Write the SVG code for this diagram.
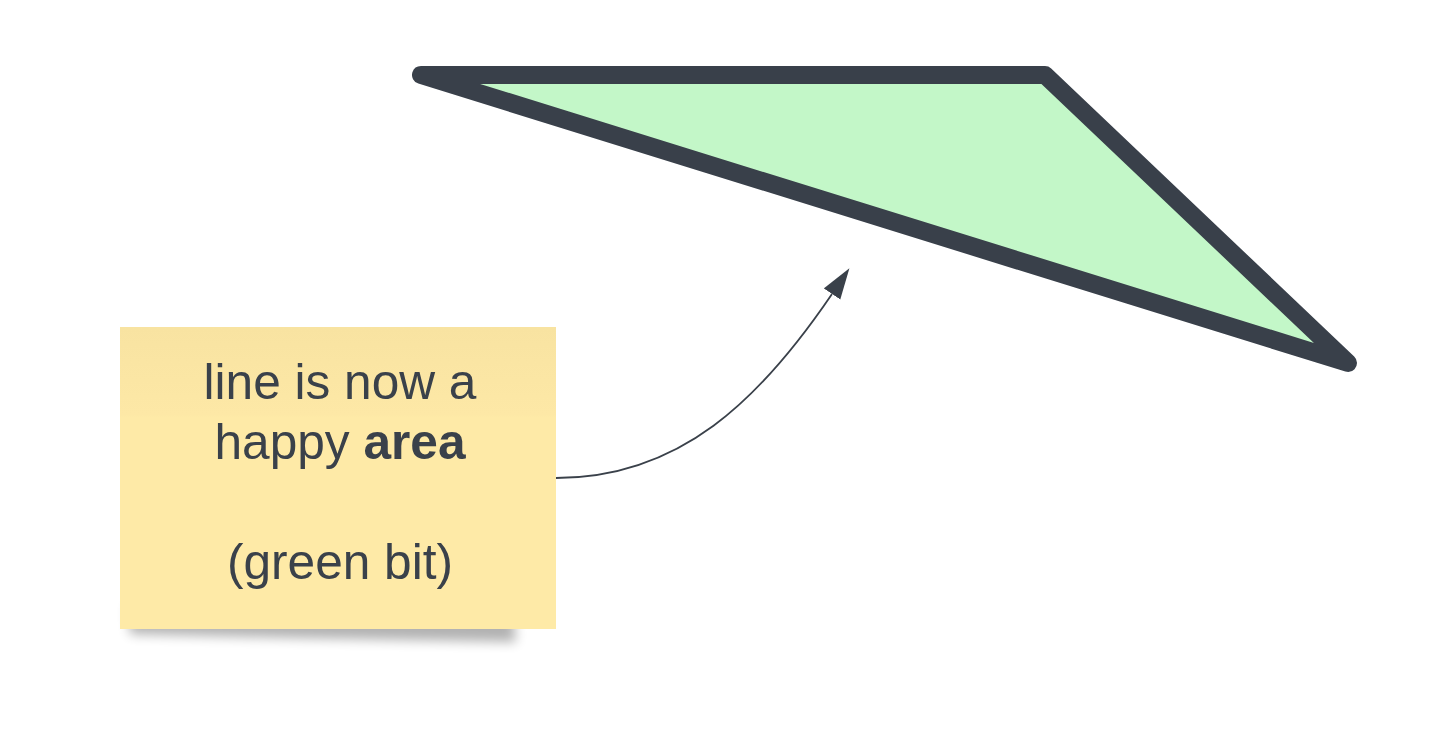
<svg xmlns="http://www.w3.org/2000/svg" width="1433" height="741" viewBox="0 0 1433 741">
  <defs>
    <style>
      .txt { font-family: "Liberation Sans", Arial, sans-serif; font-size: 49.6px; fill: #3a414a; text-anchor: middle; }
      .bold { font-weight: bold; }
      .conn { fill: none; stroke: #3a414a; stroke-width: 1.8; }
    </style>
    <linearGradient id="noteGrad" x1="0" y1="0" x2="0" y2="1">
      <stop offset="0" stop-color="#f8e3a1"/>
      <stop offset="0.29" stop-color="#fde8a6"/>
      <stop offset="0.3" stop-color="#feeaa7"/>
      <stop offset="1" stop-color="#feeaa7"/>
    </linearGradient>
    <filter id="blur" x="-20%" y="-50%" width="140%" height="200%">
      <feGaussianBlur stdDeviation="6"/>
    </filter>
    <marker id="arrow" markerUnits="userSpaceOnUse" markerWidth="32" markerHeight="22" refX="0" refY="10" orient="auto">
      <path d="M0,0 L31,10 L0,20 Z" fill="#3a414a"/>
    </marker>
  </defs>
  <rect width="1433" height="741" fill="#ffffff"/>

  <g id="area">
    <polygon points="421,75 1045,75 1348,363" fill="#c3f7c8" stroke="#39404a" stroke-width="18" stroke-linejoin="round"/>
  </g>

  <g id="note">
    <path d="M128,605 L512,605 L516,642 L300,638 L130,634 Z" fill="#000" opacity="0.3" filter="url(#blur)"/>
    <rect x="120" y="327" width="436" height="302" fill="url(#noteGrad)"/>
    <text class="txt" x="340" y="399">line is now a</text>
    <text class="txt" x="340" y="459">happy <tspan class="bold">area</tspan></text>
    <text class="txt" x="340" y="579">(green bit)</text>
  </g>

  <g id="connectors">
    <path class="conn" d="M556,478 C680,478 760,400 832,294" marker-end="url(#arrow)"/>
  </g>
</svg>
